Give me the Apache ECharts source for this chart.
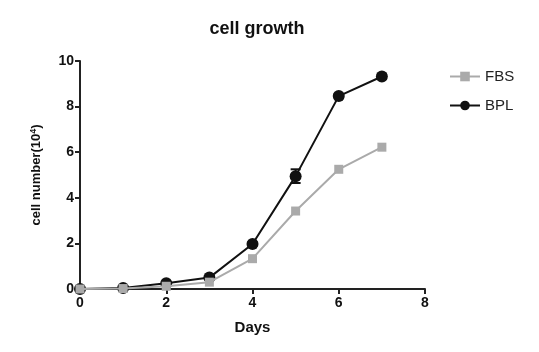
<!DOCTYPE html>
<html lang="en">
<head>
  <meta charset="UTF-8">
  <title>cell growth</title>
  <style>
    html, body { margin: 0; padding: 0; background: #fff; }
    #chart { width: 539px; height: 352px; }
  </style>
</head>
<body>
  <div id="chart"></div>
  <script src="https://cdn.jsdelivr.net/npm/echarts@6/dist/echarts.min.js"></script>
  <script>
    var days = [0, 1, 2, 3, 4, 5, 6, 7];
    var fbs = [0, 0.02, 0.12, 0.3, 1.33, 3.42, 5.25, 6.22];
    var bpl = [0, 0.04, 0.25, 0.5, 1.97, 4.95, 8.46, 9.32];
    var bplErr = [0, 0, 0.05, 0.05, 0.08, 0.3, 0.1, 0.1];
    var yTicks = [0, 2, 4, 6, 8, 10];

    function pairs(ys) {
      return days.map(function (d, i) { return [d, ys[i]]; });
    }

    var errData = days.map(function (d, i) {
      return [d, bpl[i] - bplErr[i], bpl[i] + bplErr[i]];
    });

    var chart = echarts.init(document.getElementById('chart'));
    var font = 'Liberation Sans, Arial, sans-serif';

    chart.setOption({
      animation: false,
      title: {
        text: 'cell growth',
        left: 252, top: 15, textAlign: 'center',
        textStyle: { fontFamily: font, fontSize: 18, fontWeight: 'bold', color: '#111' }
      },
      legend: {
        orient: 'vertical',
        left: 444, top: 64,
        itemWidth: 30, itemHeight: 12, itemGap: 14,
        textStyle: { fontFamily: font, fontSize: 15, color: '#222' },
        data: ['FBS', 'BPL']
      },
      grid: { left: 80, right: 114, top: 61, bottom: 63 },
      xAxis: {
        type: 'value', min: 0, max: 8, interval: 2,
        name: 'Days', nameLocation: 'middle', nameGap: 31,
        nameTextStyle: { fontFamily: font, fontSize: 15, fontWeight: 'bold', color: '#111' },
        axisLine: { lineStyle: { color: '#222', width: 2 } },
        axisTick: { lineStyle: { color: '#222', width: 2 }, length: 5 },
        axisLabel: { fontFamily: font, fontSize: 14, fontWeight: 'bold', color: '#111', margin: 7 },
        splitLine: { show: false }
      },
      yAxis: {
        type: 'value', min: 0, max: 10, interval: 2,
        name: '{a|cell number(10}{s|4}{a|)}', nameLocation: 'middle', nameGap: 36,
        nameTextStyle: {
          rich: {
            a: { fontFamily: font, fontSize: 13, fontWeight: 'bold', color: '#111' },
            s: { fontFamily: font, fontSize: 9, fontWeight: 'bold', color: '#111', verticalAlign: 'top', padding: [0, 0, 6, 0] }
          }
        },
        axisLine: { show: true, lineStyle: { color: '#222', width: 2 } },
        axisTick: { show: true, lineStyle: { color: '#222', width: 2 }, length: 5 },
        axisLabel: {
          fontFamily: font, fontSize: 14, fontWeight: 'bold', color: '#111', margin: 6,
          formatter: function (v) { return yTicks.indexOf(v) >= 0 ? v : ''; }
        },
        splitLine: { show: false }
      },
      series: [
        {
          name: 'BPL', type: 'line', data: pairs(bpl), z: 3,
          symbol: 'circle', symbolSize: 12,
          lineStyle: { color: '#111', width: 2 },
          itemStyle: { color: '#111' }
        },
        {
          name: 'BPL err', type: 'custom', z: 2,
          renderItem: function (params, api) {
            var top = api.coord([api.value(0), api.value(2)]);
            var bot = api.coord([api.value(0), api.value(1)]);
            var w = 5;
            return {
              type: 'group',
              children: [
                { type: 'line', shape: { x1: top[0], y1: top[1], x2: bot[0], y2: bot[1] }, style: { stroke: '#111', lineWidth: 2 } },
                { type: 'line', shape: { x1: top[0] - w, y1: top[1], x2: top[0] + w, y2: top[1] }, style: { stroke: '#111', lineWidth: 2 } },
                { type: 'line', shape: { x1: bot[0] - w, y1: bot[1], x2: bot[0] + w, y2: bot[1] }, style: { stroke: '#111', lineWidth: 2 } }
              ]
            };
          },
          data: errData
        },
        {
          name: 'FBS', type: 'line', data: pairs(fbs), z: 4,
          symbol: 'rect', symbolSize: 9,
          lineStyle: { color: '#aaa', width: 2 },
          itemStyle: { color: '#aaa' }
        }
      ]
    });
  </script>
</body>
</html>
